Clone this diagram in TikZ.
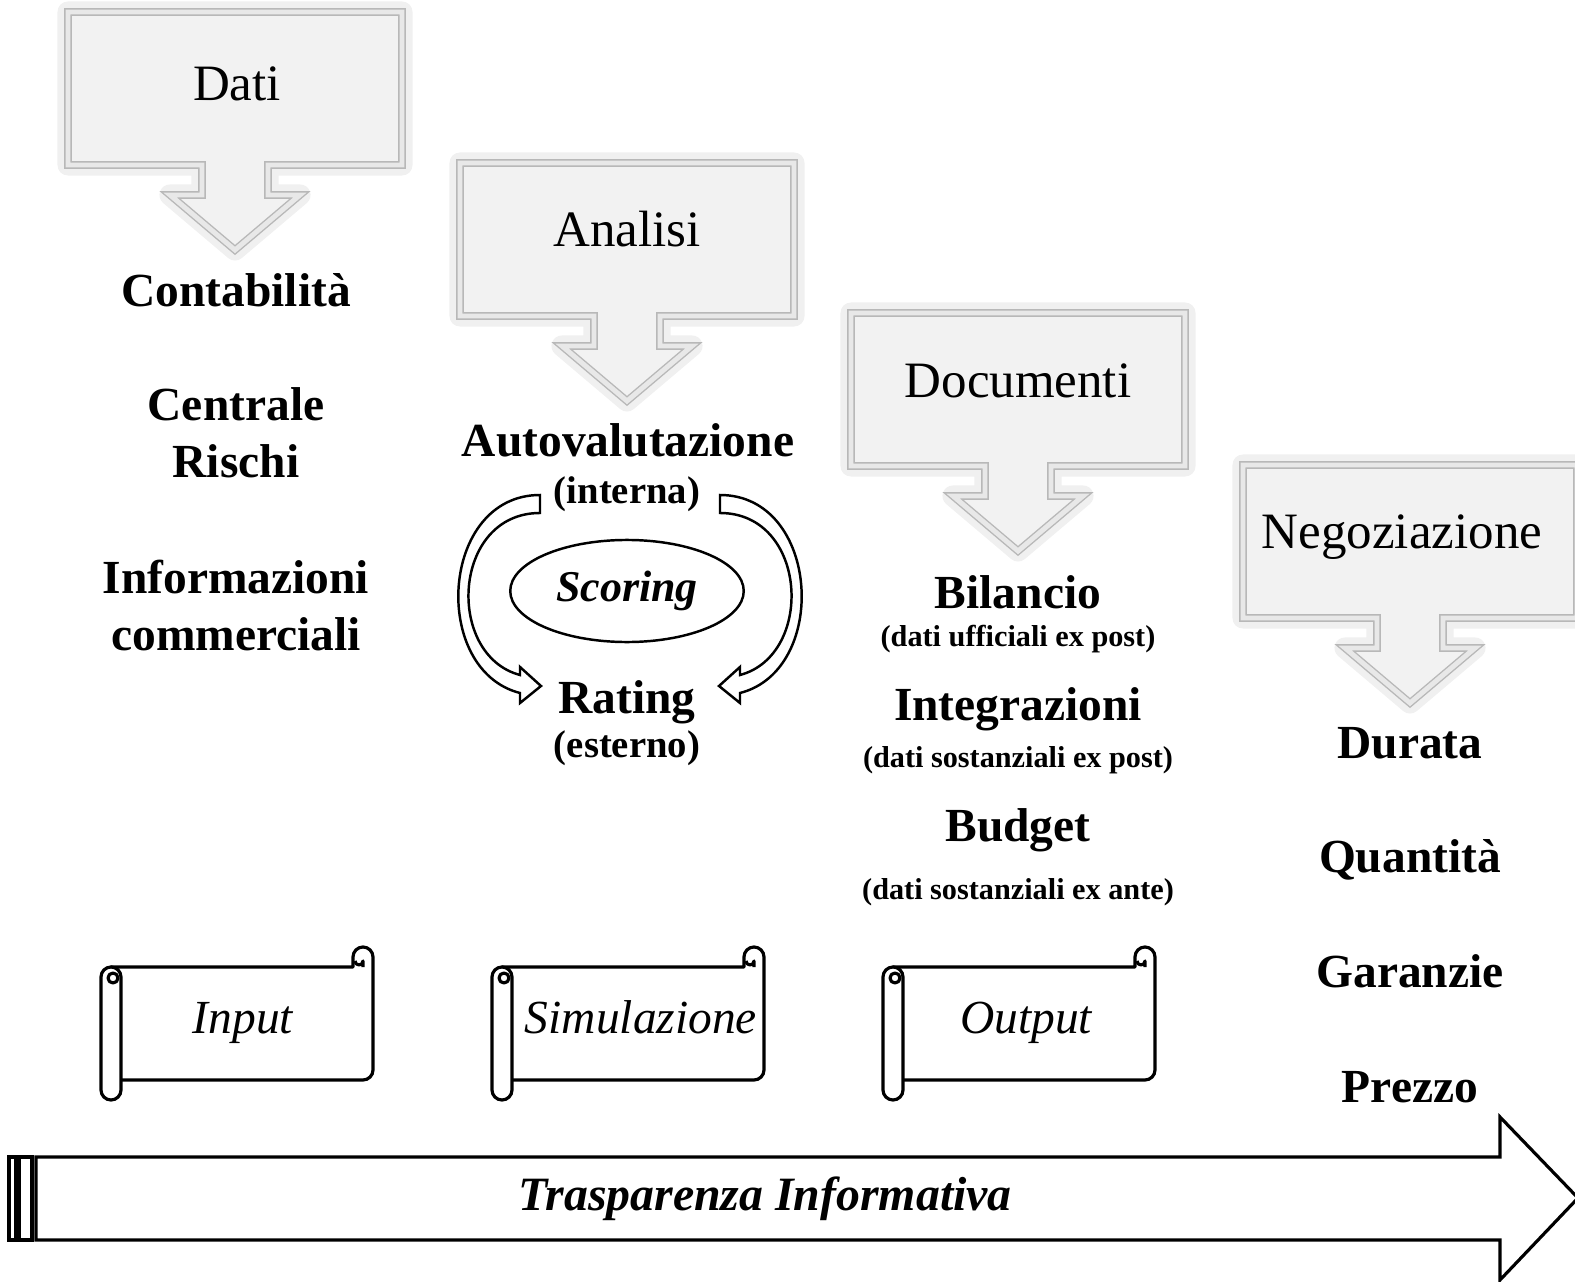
\documentclass[tikz,border=0pt]{standalone}
\usepackage{fontspec}
\setmainfont{Liberation Serif}
\usetikzlibrary{shapes.geometric}

\tikzset{
  head/.style={anchor=base, font=\fontsize{14.5}{17}\selectfont},
  item/.style={anchor=base, font=\fontsize{13.5}{16}\selectfont\bfseries},
  paren/.style={anchor=base, font=\fontsize{11}{13}\selectfont\bfseries},
  note/.style={anchor=base, font=\fontsize{8.6}{10}\selectfont\bfseries},
  rolltext/.style={anchor=base, font=\fontsize{13.5}{16}\selectfont\itshape},
  band/.style={draw, line width=0.9pt, line join=miter},
  callout/.pic={
    \path[fill=black!5, draw=black!28, line width=0.4pt, double=black!9, double distance=1.4pt,
      preaction={draw=black!6, line width=6pt, line join=round}]
      (-167,0) -- (167,0) -- (167,153) -- (33,153) -- (33,183) -- (65,183)
      -- (0,238) -- (-65,183) -- (-33,183) -- (-33,153) -- (-167,153) -- cycle;
  },
  bentarrow/.pic={
    \draw[fill=white, line width=0.7pt, line join=miter]
      (0,0) .. controls (-100,0) and (-110,175) .. (-20,198) -- (-20,208) -- (1,191)
      -- (-20,172) -- (-20,180) .. controls (-95,160) and (-88,18) .. (0,18) -- cycle;
  },
  scrollbox/.pic={
    \draw[fill=white] (10,0) -- (252,0) -- (252,-10)
      arc[start angle=180, end angle=360, radius=10] -- (272,103)
      arc[start angle=0, end angle=90, radius=10] -- (10,113) -- cycle;
    \draw (262,0) -- (262,-6) arc[start angle=0, end angle=180, radius=4];
    \draw[fill=white] (0,10) -- (0,123) arc[start angle=180, end angle=0, radius=10]
      -- (20,10) arc[start angle=0, end angle=-180, radius=10] -- cycle;
    \draw (12,11) circle[radius=5];
  }
}

\begin{document}
\begin{tikzpicture}[x=0.01cm, y=-0.01cm]
  \useasboundingbox (0,0) rectangle (1575,1282);

  % callouts
  \foreach \cx/\yt in {235/12, 627/163, 1018/313, 1410/465}
    \pic at (\cx,\yt) {callout};
  \node[head] (dati) at (237,101) {Dati};
  \node[head] (anal) at (627,247) {Analisi};
  \node[head] (docu) at (1018,398) {Documenti};
  \node[head] (nego) at (1402,548) {Negoziazione};

  % Dati
  \node[item] (cont) at (236,307) {Contabilità};
  \node[item] (cent) at (236,420) {Centrale};
  \node[item] (risc) at (236,478) {Rischi};
  \node[item] (info) at (236,593) {Informazioni};
  \node[item] (comm) at (236,650) {commerciali};

  % Analisi
  \node[item] (auto) at (628,456) {Autovalutazione};
  \node[paren] (inte) at (627,503) {(interna)};
  \node[draw, ellipse, line width=0.7pt, minimum width=2.12cm, minimum height=1.02cm,
    font=\fontsize{12.5}{15}\selectfont\bfseries\itshape] (scor) at (627,591) {Scoring};
  \node[item] (rati) at (627,713) {Rating};
  \node[paren] (este) at (627,757) {(esterno)};
  \pic at (540,495) {bentarrow};
  \pic[xscale=-1] at (720,495) {bentarrow};

  % Documenti
  \node[item] (bila) at (1018,608) {Bilancio};
  \node[note] (bil2) at (1018,646) {(dati ufficiali ex post)};
  \node[item] (inti) at (1018,720) {Integrazioni};
  \node[note] (int2) at (1018,767) {(dati sostanziali ex post)};
  \node[item] (budg) at (1018,841) {Budget};
  \node[note] (bud2) at (1018,899) {(dati sostanziali ex ante)};

  % Negoziazione
  \node[item] (dura) at (1410,758) {Durata};
  \node[item] (quan) at (1410,872) {Quantità};
  \node[item] (gara) at (1410,987) {Garanzie};
  \node[item] (prez) at (1410,1102) {Prezzo};

  % scrolls
  \foreach \sx in {101, 492, 883}
    \pic[line width=0.9pt, line join=round] at (\sx,967) {scrollbox};
  \node[rolltext] (inp) at (243,1033) {Input};
  \node[rolltext] (sim) at (641,1033) {Simulazione};
  \node[rolltext] (out) at (1026,1033) {Output};

  % big arrow
  \path[band] (9,1157) rectangle (16,1240);
  \path[band] (19,1157) rectangle (32,1240);
  \path[band] (36,1157) -- (1500,1157) -- (1500,1117) -- (1578,1198)
    -- (1500,1280) -- (1500,1240) -- (36,1240) -- cycle;
  \node[anchor=base, font=\fontsize{13.6}{16}\selectfont\bfseries\itshape] (tras) at (765,1210)
    {Trasparenza Informativa};
\end{tikzpicture}
\end{document}
